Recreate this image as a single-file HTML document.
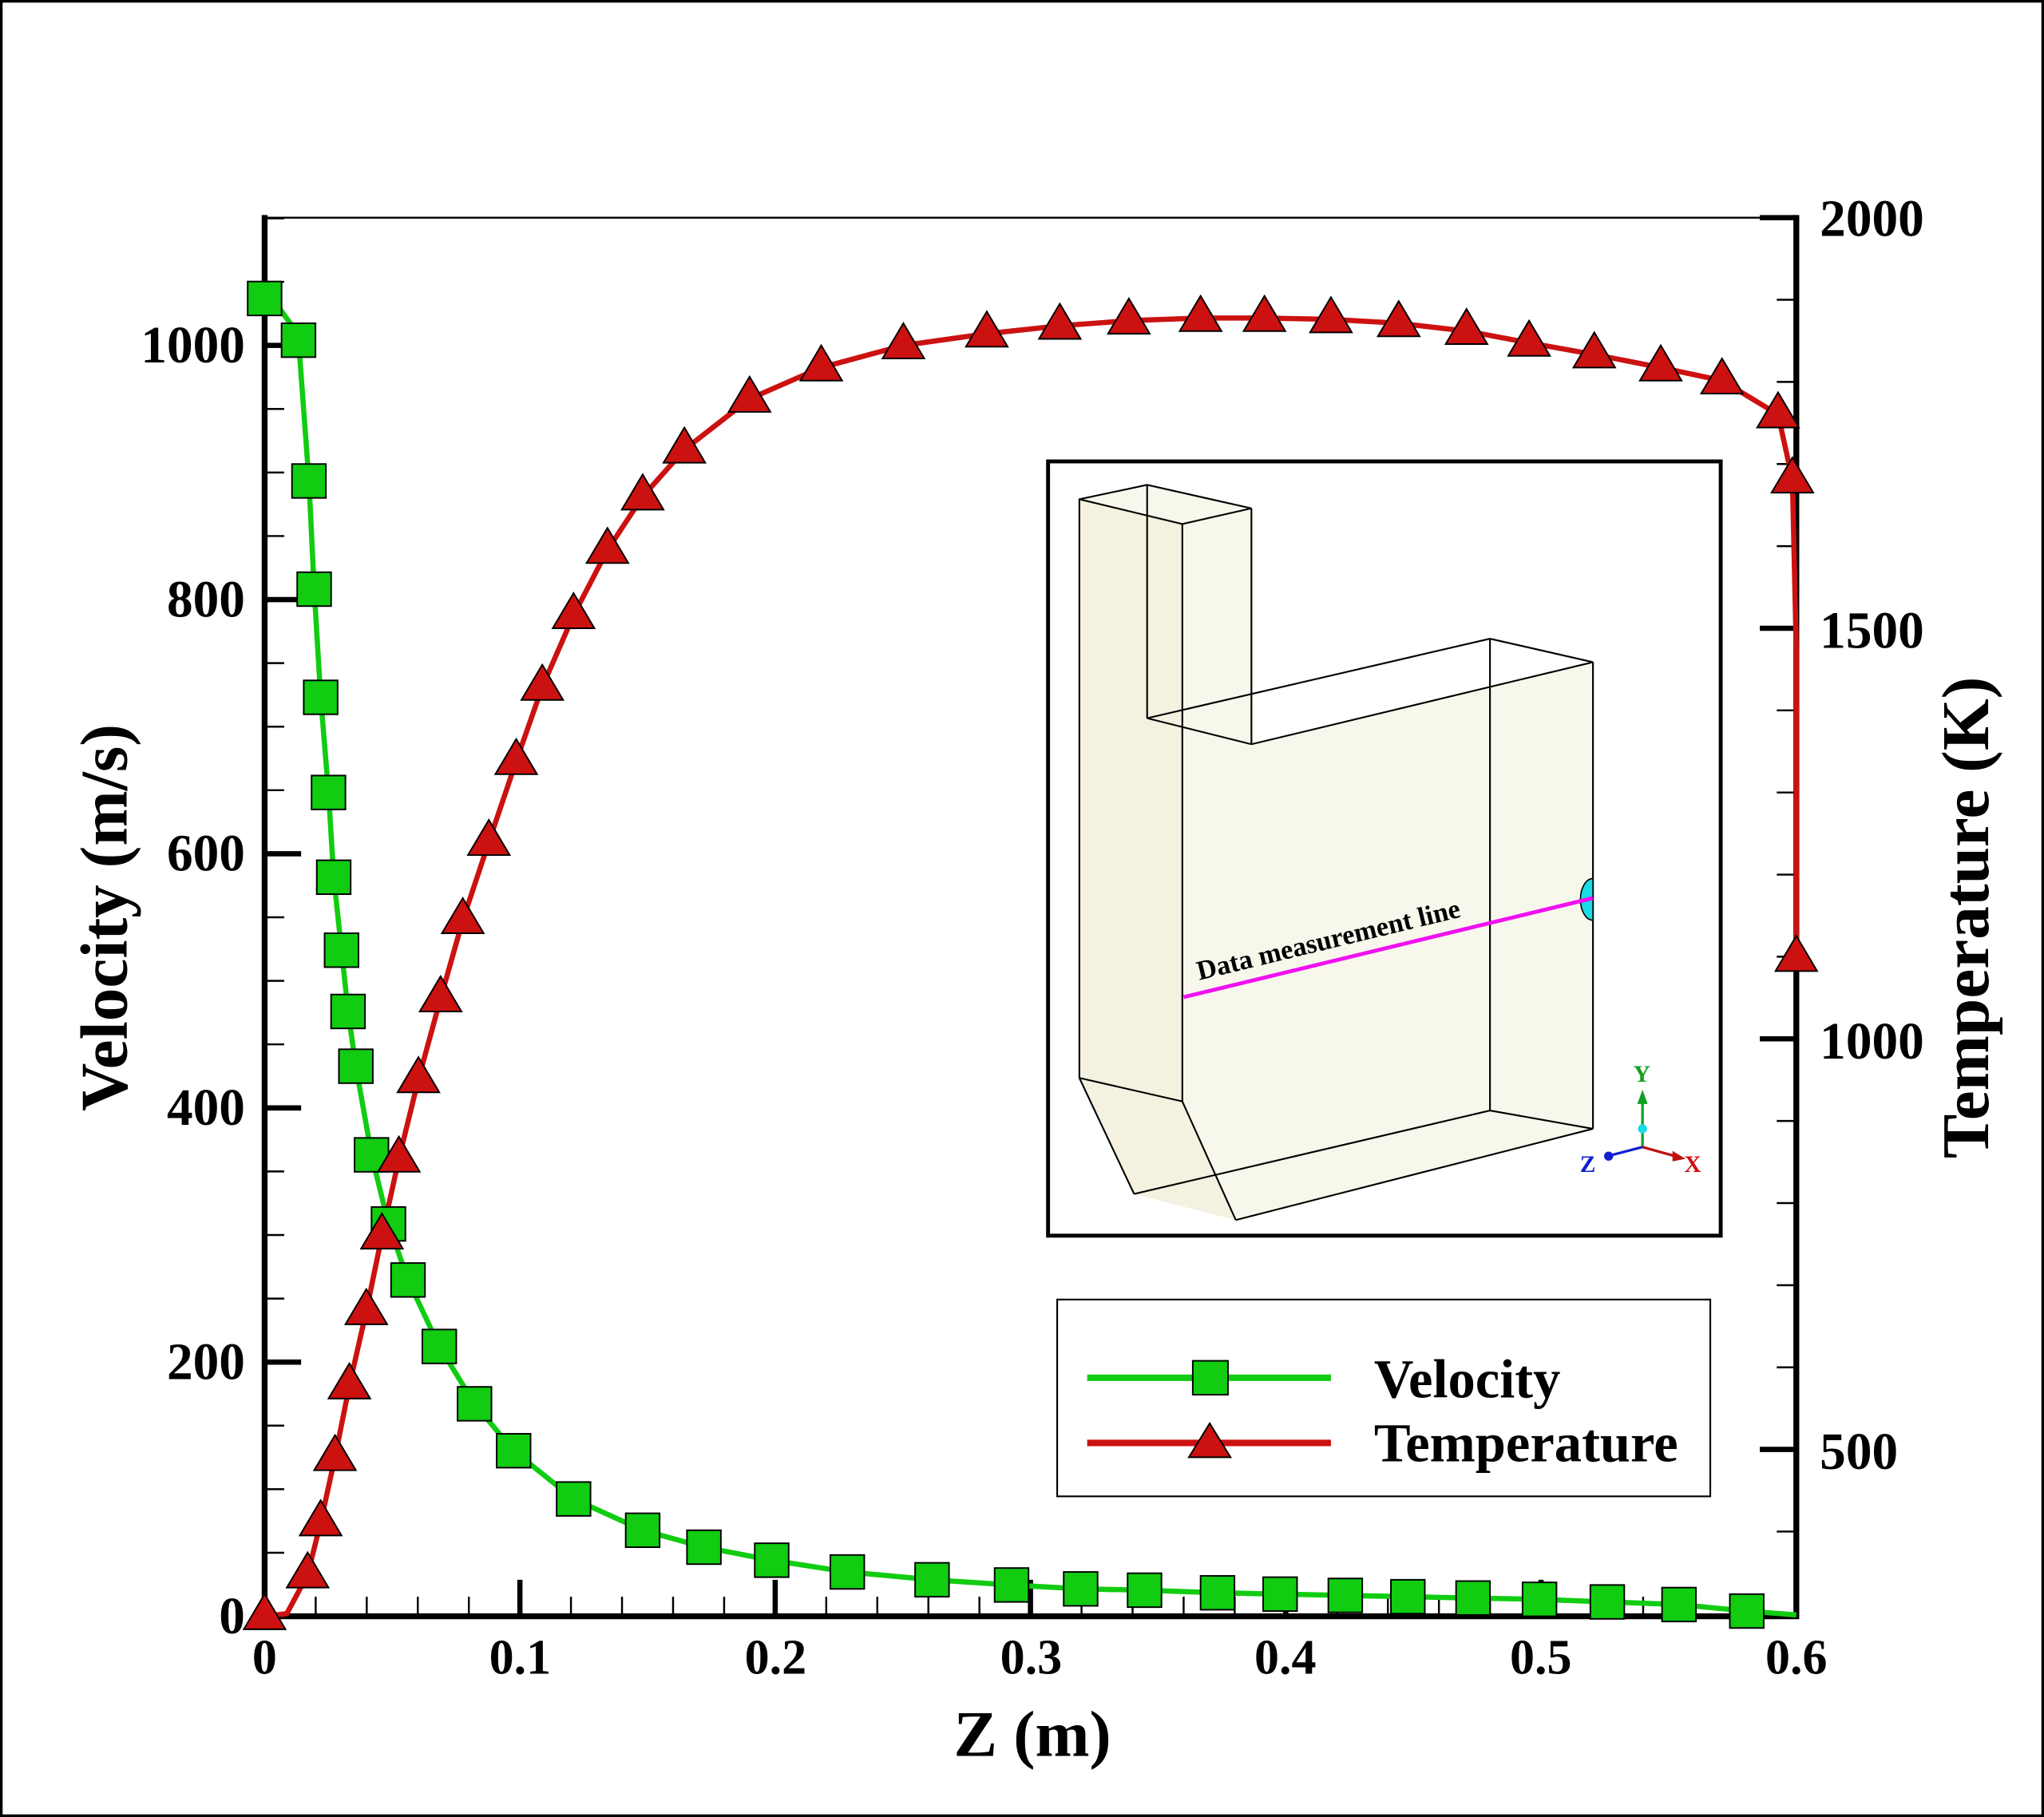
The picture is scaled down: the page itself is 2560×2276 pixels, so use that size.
<!DOCTYPE html>
<html><head><meta charset="utf-8"><style>
html,body{margin:0;padding:0;background:#fff}
svg{display:block}
text{font-family:"Liberation Serif",serif;font-weight:bold;fill:#000}
</style></head><body>
<svg id="s" width="2560" height="2276" viewBox="0 0 1568 1394" preserveAspectRatio="none" xmlns="http://www.w3.org/2000/svg">
<rect x="1" y="1" width="1566" height="1392" fill="#fff" stroke="#000" stroke-width="2"/>
<line x1="203" y1="167" x2="1378" y2="167" stroke="#000" stroke-width="1.5"/>
<line x1="203" y1="165" x2="203" y2="1242" stroke="#000" stroke-width="4.5"/>
<line x1="201" y1="1240" x2="1380" y2="1240" stroke="#000" stroke-width="4.5"/>
<line x1="1378" y1="165" x2="1378" y2="1242" stroke="#000" stroke-width="4.5"/>
<g id="ticks" stroke="#000"></g>
<rect x="804" y="354" width="516" height="594" fill="#fff" stroke="#000" stroke-width="3"/>
<polygon points="828,383 880,372 960,390 960,571 1222,508 1222,866 948,936 870,916 828,827" fill="#f8f7ec"/>
<polygon points="828,383 907,402 907,845 828,827" fill="#f4f1e0"/>
<polygon points="828,827 907,845 948,936 870,916" fill="#f4f1e0"/>
<g stroke="#000" stroke-width="1.3" fill="none">
<polyline points="828,827 828,383 880,372 960,390 907,402 828,383"/>
<line x1="880" y1="372" x2="880" y2="551"/><line x1="907" y1="402" x2="907" y2="845"/>
<line x1="960" y1="390" x2="960" y2="571"/>
<line x1="880" y1="551" x2="1143" y2="490"/><line x1="880" y1="551" x2="960" y2="571"/>
<line x1="960" y1="571" x2="1222" y2="508"/><line x1="1143" y1="490" x2="1222" y2="508"/>
<line x1="1143" y1="490" x2="1143" y2="852"/><line x1="1222" y1="508" x2="1222" y2="866"/>
<line x1="828" y1="827" x2="907" y2="845"/><line x1="828" y1="827" x2="870" y2="916"/>
<line x1="907" y1="845" x2="948" y2="936"/><line x1="870" y1="916" x2="1143" y2="852"/>
<line x1="948" y1="936" x2="1222" y2="866"/><line x1="1143" y1="852" x2="1222" y2="866"/>
</g>
<path d="M1222,674 A9,15 0 0 0 1222,706 Z" fill="#19dce6" stroke="#000" stroke-width="1"/>
<line x1="908" y1="765" x2="1222" y2="689" stroke="#f010f0" stroke-width="3"/>
<text x="920" y="752" font-size="21" transform="rotate(-13.6 920 752)">Data measurement line</text>
<line x1="1260" y1="880" x2="1260" y2="845" stroke="#10a020" stroke-width="2"/>
<polygon points="1256,847 1264,847 1260,836" fill="#10a020"/>
<line x1="1260" y1="880" x2="1285" y2="887" stroke="#c01010" stroke-width="2"/>
<polygon points="1283,883 1283,891 1293,889" fill="#c01010"/>
<line x1="1260" y1="880" x2="1237" y2="886" stroke="#1020d0" stroke-width="2"/>
<circle cx="1234" cy="887" r="3.5" fill="#1020d0"/>
<circle cx="1260" cy="866" r="3.5" fill="#19dce6"/>
<text x="1253" y="830" font-size="18" style="fill:#10a020">Y</text>
<text x="1292" y="899" font-size="18" style="fill:#d01010">X</text>
<text x="1212" y="899" font-size="18" style="fill:#1020d0">Z</text>
<g id="series"></g>
<rect x="811" y="997" width="501" height="151" fill="#fff" stroke="#000" stroke-width="1.3"/>
<line x1="834" y1="1057" x2="1021" y2="1057" stroke="#11cc11" stroke-width="5"/>
<rect x="915" y="1044" width="27" height="26" fill="#11cc11" stroke="#000" stroke-width="1.2"/>
<line x1="834" y1="1107" x2="1021" y2="1107" stroke="#cc1111" stroke-width="5"/>
<polygon points="928,1092 912,1118 944,1118" fill="#cc1111" stroke="#000" stroke-width="1.2"/>
<text x="1054" y="1072" font-size="42">Velocity</text>
<text x="1054" y="1121" font-size="42">Temperature</text>
<g font-size="40" text-anchor="end">
<text x="188" y="1253">0</text><text x="188" y="1058">200</text><text x="188" y="863">400</text>
<text x="188" y="668">600</text><text x="188" y="473">800</text><text x="188" y="278">1000</text>
</g>
<g font-size="40" text-anchor="start">
<text x="1396" y="181">2000</text><text x="1396" y="497">1500</text><text x="1396" y="812">1000</text><text x="1396" y="1127">500</text>
</g>
<g font-size="38" text-anchor="middle">
<text x="203" y="1284">0</text><text x="399" y="1284">0.1</text><text x="595" y="1284">0.2</text>
<text x="791" y="1284">0.3</text><text x="986" y="1284">0.4</text><text x="1182" y="1284">0.5</text><text x="1378" y="1284">0.6</text>
</g>
<text x="792" y="1347" font-size="50" text-anchor="middle">Z (m)</text>
<text x="0" y="0" font-size="51" text-anchor="middle" transform="translate(97,704) rotate(-90)">Velocity (m/s)</text>
<text x="0" y="0" font-size="51" text-anchor="middle" transform="translate(1525,704) rotate(-90)">Temperature (K)</text>
</svg>
<script>
var NS="http://www.w3.org/2000/svg";
function el(p,t,a){var e=document.createElementNS(NS,t);for(var k in a)e.setAttribute(k,a[k]);p.appendChild(e);return e;}
var tk=document.getElementById("ticks");
var X=function(z){return 203+z*1175/0.6};
var YL=function(v){return 1240-v*0.975};
var YR=function(t){return 167+(2000-t)*0.63};
for(var v=50;v<=1100;v+=50){var maj=v%200==0;el(tk,"line",{x1:203,x2:203+(maj?28:15),y1:YL(v),y2:YL(v),"stroke-width":maj?4:1.5});}
for(var i=1;i<30;i++){var z=i*0.02;var maj=i%5==0;el(tk,"line",{x1:X(z),x2:X(z),y1:1240,y2:1240-(maj?28:15),"stroke-width":maj?4:1.5});}
for(var t=400;t<=2000;t+=100){var maj=t%500==0;el(tk,"line",{x1:1378,x2:1378-(maj?28:15),y1:YR(t),y2:YR(t),"stroke-width":maj?4:1.5});}
var vp=[[203,229],[214,236],[224,250],[229,261],[237,369],[241,452],[246,535],[252,608],[256,673],[262,729],[267,776],[273,818],[285,886],[298,939],[313,982],[337,1033],[364,1077],[394,1113],[440,1150],[493,1174],[540,1187],[592,1197],[650,1206],[715,1212],[776,1216],[829,1219],[878,1220],[934,1222],[982,1223],[1032,1224],[1080,1225],[1130,1226],[1181,1227],[1233,1229],[1288,1231],[1340,1236],[1378,1239]];
var tp=[[203,1240],[220,1238],[236,1208],[246,1168],[257,1118],[268,1063],[281,1006],[293,948],[306,889],[321,828],[338,766],[355,706],[375,646],[396,584],[416,527],[440,472],[466,422],[493,381],[525,345],[575,306],[630,282],[693,265],[757,256],[813,250],[866,246],[921,244],[970,244],[1021,245],[1073,248],[1125,254],[1173,263],[1223,272],[1274,282],[1321,292],[1364,318],[1375,368],[1378,500],[1378,735]];
var sg=document.getElementById("series");
function pts(a){return a.map(function(p){return p.join(",")}).join(" ");}
el(sg,"polyline",{points:pts(vp),fill:"none",stroke:"#11cc11","stroke-width":4,"stroke-linejoin":"round"});
el(sg,"polyline",{points:pts(tp),fill:"none",stroke:"#cc1111","stroke-width":4,"stroke-linejoin":"round"});
vp.forEach(function(p,i){if(i==1||i==2||i==vp.length-1)return;el(sg,"rect",{x:p[0]-13,y:p[1]-13,width:26,height:26,fill:"#11cc11",stroke:"#000","stroke-width":1.2});});
tp.forEach(function(p,i){if(i==1||i==tp.length-2)return;var x=p[0],y=p[1];el(sg,"polygon",{points:(x)+","+(y-17)+" "+(x-16)+","+(y+10)+" "+(x+16)+","+(y+10),fill:"#cc1111",stroke:"#000","stroke-width":1.2});});
</script>
</body></html>
